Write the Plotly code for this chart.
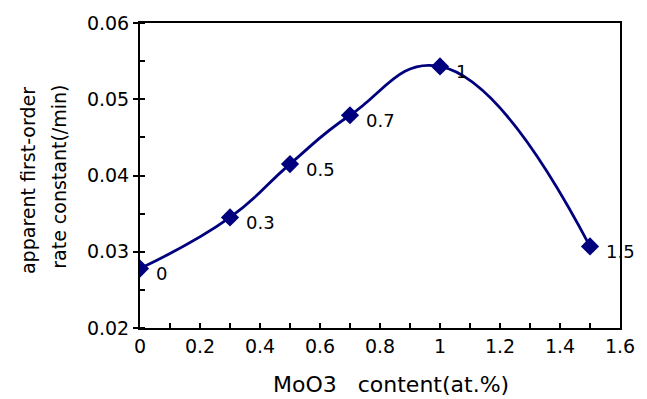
import plotly.graph_objects as go

x_content = [0, 0.3, 0.5, 0.7, 1.0, 1.5]
k_rate = [0.0278, 0.0345, 0.0415, 0.0479, 0.0543, 0.0307]
point_labels = ["0", "0.3", "0.5", "0.7", "1", "1.5"]
x_ticks = [0, 0.2, 0.4, 0.6, 0.8, 1, 1.2, 1.4, 1.6]
x_tick_text = ["0", "0.2", "0.4", "0.6", "0.8", "1", "1.2", "1.4", "1.6"]
y_ticks = [0.02, 0.03, 0.04, 0.05, 0.06]
y_tick_text = ["0.02", "0.03", "0.04", "0.05", "0.06"]
y_title_lines = ["apparent first-order", "rate constant(/min)"]
x_title = "MoO3&nbsp;&nbsp;&nbsp;content(at.%)"

FONT = "DejaVu Sans, sans-serif"
NAVY = "#00007f"

fig = go.Figure()
fig.add_trace(go.Scatter(
    x=x_content, y=k_rate, mode="lines+markers",
    line=dict(color=NAVY, width=2.8, shape="spline", smoothing=1.3),
    marker=dict(symbol="diamond", size=14, color=NAVY),
    showlegend=False,
))

for xv, yv, t in zip(x_content, k_rate, point_labels):
    fig.add_annotation(x=xv, y=yv, text=t, showarrow=False, xanchor="left",
                       yanchor="middle", xshift=14, yshift=-5,
                       font=dict(family=FONT, size=18, color="black"))

for xp, yp, t in zip([-0.232, -0.168], [0.484, 0.497], y_title_lines):
    fig.add_annotation(xref="paper", yref="paper", x=xp, y=yp, text=t,
                       textangle=-90, showarrow=False, xanchor="center", yanchor="middle",
                       font=dict(family=FONT, size=19, color="black"))

fig.add_annotation(xref="paper", yref="paper", x=0.5226, y=-0.185,
                   text=x_title, showarrow=False, xanchor="center", yanchor="middle",
                   font=dict(family=FONT, size=22, color="black"))

fig.update_xaxes(range=[0, 1.6], tickvals=x_ticks, ticktext=x_tick_text,
                 showgrid=False, zeroline=False, showline=True, linecolor="black",
                 linewidth=2, mirror=True, ticks="inside", ticklen=5, tickwidth=1.5,
                 tickcolor="black",
                 minor=dict(dtick=0.1, tick0=0, ticks="inside", ticklen=5, tickwidth=1.5, tickcolor="black"),
                 tickfont=dict(family=FONT, size=19, color="black"))
fig.update_yaxes(range=[0.02, 0.06], tickvals=y_ticks, ticktext=y_tick_text,
                 showgrid=False, zeroline=False, showline=True, linecolor="black",
                 linewidth=2, mirror=True, ticks="outside", ticklen=5, tickwidth=1.5,
                 tickcolor="black",
                 minor=dict(dtick=0.005, tick0=0.02, ticks="inside", ticklen=5, tickwidth=1.5, tickcolor="black"),
                 tickfont=dict(family=FONT, size=19, color="black"))

fig.update_layout(width=647, height=399, margin=dict(l=140, r=20, t=20, b=71),
                  plot_bgcolor="white", paper_bgcolor="white")

fig.write_html("out.html")
